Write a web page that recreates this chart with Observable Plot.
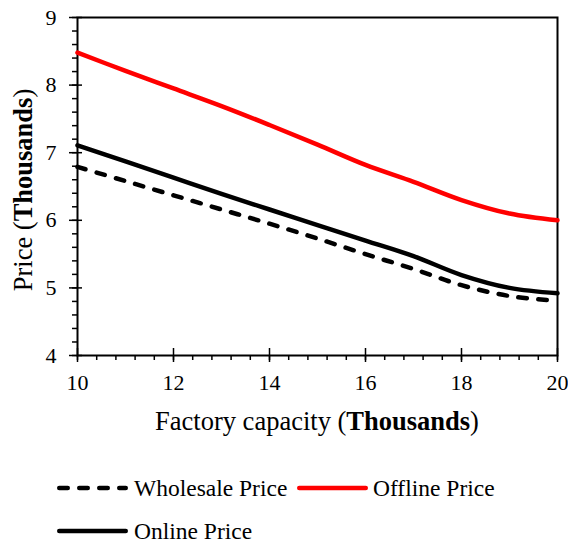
<!DOCTYPE html>
<html>
<head>
<meta charset="utf-8">
<script src="https://cdn.jsdelivr.net/npm/d3@7"></script>
<script src="https://cdn.jsdelivr.net/npm/@observablehq/plot@0.6"></script>
<style>
  html, body { margin: 0; padding: 0; background: #fff; }
  #wrap { position: relative; width: 568px; height: 543px; font-family: "Liberation Serif", "Times New Roman", serif; }
  .sw { position: absolute; display: block; }
  .lt { position: absolute; font-size: 23.5px; line-height: 30px; height: 30px; color: #000; white-space: nowrap; font-family: "Liberation Serif", "Times New Roman", serif; }
</style>
</head>
<body>
<div id="wrap"></div>
<script>
const capacity = [10, 11, 12, 13, 14, 15, 16, 17, 18, 19, 20];
const wholesalePrice = [6.79, 6.58, 6.37, 6.16, 5.95, 5.73, 5.50, 5.28, 5.04, 4.88, 4.81];
const offlinePrice   = [8.48, 8.21, 7.95, 7.69, 7.41, 7.12, 6.82, 6.57, 6.30, 6.10, 6.00];
const onlinePrice    = [7.11, 6.87, 6.63, 6.39, 6.16, 5.93, 5.70, 5.47, 5.19, 5.00, 4.92];
const seriesNames = ["Wholesale Price", "Offline Price", "Online Price"];
const xMajor = [10, 12, 14, 16, 18, 20];
const xMinor = d3.range(10, 20.001, 0.4);
const yMajor = [4, 5, 6, 7, 8, 9];
const yMinor = d3.range(4, 9.001, 0.2);

const toRows = (vals) => capacity.map((c, i) => ({x: c, y: vals[i]}));
const wholesaleRows = toRows(wholesalePrice);
const offlineRows = toRows(offlinePrice);
const onlineRows = toRows(onlinePrice);

const SERIF = "'Liberation Serif', 'Times New Roman', serif";
const W = 568, H = 455;
const chart = Plot.plot({
  width: W,
  height: H,
  marginLeft: 77,
  marginRight: 11,
  marginTop: 17,
  marginBottom: 100,
  style: {fontFamily: SERIF, fontSize: "22px", color: "#000", background: "#fff"},
  x: {domain: [10, 20]},
  y: {domain: [4, 9]},
  marks: [
    Plot.axisX({ticks: xMinor, tickSize: 5, text: null, strokeWidth: 1.5, stroke: "#000", label: null}),
    Plot.axisX({ticks: xMajor, tickSize: 7, tickPadding: 12, strokeWidth: 1.5, stroke: "#000", fill: "#000", label: null, tickFormat: d => String(d)}),
    Plot.axisX({ticks: xMajor, tickSize: -7, text: null, strokeWidth: 1.5, stroke: "#000", label: null}),
    Plot.axisY({ticks: yMinor, tickSize: 5, text: null, strokeWidth: 1.5, stroke: "#000", label: null}),
    Plot.axisY({ticks: yMajor, tickSize: 8, tickPadding: 13, strokeWidth: 1.5, stroke: "#000", fill: "#000", label: null, tickFormat: d => String(d)}),
    Plot.axisY({ticks: yMajor, tickSize: -5, text: null, strokeWidth: 1.5, stroke: "#000", label: null}),
    Plot.frame({stroke: "#000", strokeWidth: 2}),
    Plot.line(wholesaleRows, {x: "x", y: "y", stroke: "#000", strokeWidth: 4.5, strokeDasharray: "8.5,11.5", strokeLinecap: "round", curve: "catmull-rom"}),
    Plot.line(offlineRows, {x: "x", y: "y", stroke: "#ff0000", strokeWidth: 4.5, curve: "catmull-rom"}),
    Plot.line(onlineRows, {x: "x", y: "y", stroke: "#000", strokeWidth: 4.5, curve: "catmull-rom"})
  ]
});

const wrap = document.getElementById("wrap");
wrap.appendChild(chart);

const svg = d3.select(chart);
svg.selectAll("text").style("font-family", SERIF).style("font-size", "22px");

// axis titles with bold "Thousands"
const xt = svg.append("text")
  .attr("x", 317).attr("y", 430)
  .attr("text-anchor", "middle")
  .style("font-family", SERIF).style("font-size", "26.5px").attr("fill", "#000");
xt.append("tspan").text("Factory capacity (");
xt.append("tspan").attr("font-weight", "bold").text("Thousands");
xt.append("tspan").text(")");

const yt = svg.append("text")
  .attr("transform", "translate(32,190) rotate(-90)")
  .attr("text-anchor", "middle")
  .style("font-family", SERIF).style("font-size", "26.5px").attr("fill", "#000");
yt.append("tspan").text("Price (");
yt.append("tspan").attr("font-weight", "bold").text("Thousands");
yt.append("tspan").text(")");

// legend (HTML below the SVG)
function legendItem(label, swStart, swEnd, textLeft, cy, stroke, dash) {
  const len = swEnd - swStart;
  const s = document.createElementNS("http://www.w3.org/2000/svg", "svg");
  s.setAttribute("class", "sw");
  s.setAttribute("width", len + 6);
  s.setAttribute("height", 10);
  s.style.left = (swStart - 3) + "px";
  s.style.top = (cy - 5) + "px";
  s.innerHTML = `<line x1="5.25" y1="5" x2="${len + 0.75}" y2="5" stroke="${stroke}" stroke-width="4.5" stroke-linecap="round" ${dash ? 'stroke-dasharray="8.5,11.5"' : ''}/>`;
  wrap.appendChild(s);
  const t = document.createElement("div");
  t.className = "lt";
  t.style.left = textLeft + "px";
  t.style.top = (cy - 15) + "px";
  t.textContent = label;
  wrap.appendChild(t);
}
legendItem(seriesNames[0], 57, 128, 134, 488, "#000", true);
legendItem(seriesNames[1], 297, 368, 373, 488, "#ff0000", false);
legendItem(seriesNames[2], 57, 128, 134, 531, "#000", false);
</script>
</body>
</html>
